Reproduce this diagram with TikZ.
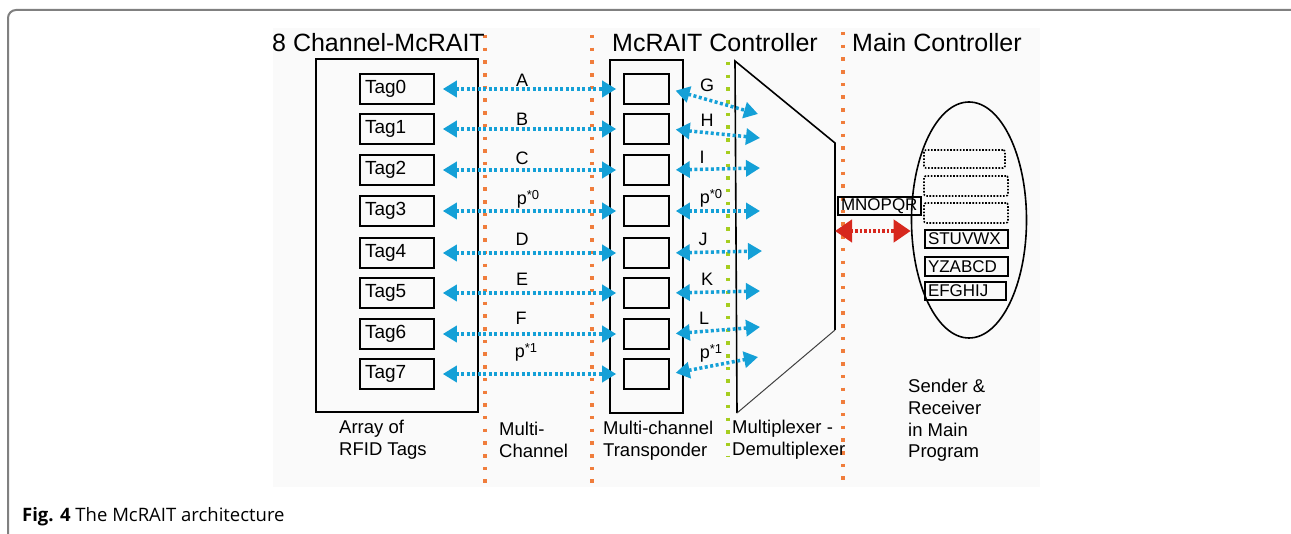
\documentclass[tikz,border=0pt]{standalone}
\usepackage{fontspec}
\setmainfont{Liberation Sans}
\newfontfamily\capfont{Open Sans}
\usetikzlibrary{arrows.meta,shapes.geometric}
\definecolor{blu}{RGB}{20,160,215}
\definecolor{org}{RGB}{240,125,60}
\definecolor{grn}{RGB}{165,205,30}
\definecolor{redc}{RGB}{215,40,30}
\definecolor{framec}{RGB}{128,128,128}
\definecolor{bgc}{RGB}{250,250,250}
\begin{document}
\begin{tikzpicture}[x=1pt,y=-1pt,
  blk/.style={draw=black, line width=1.6pt},
  tagbox/.style={blk, text width=64pt, inner xsep=5pt, inner ysep=0pt, minimum height=30pt, align=left, font=\fontsize{19}{20}\selectfont},
  slotbox/.style={blk, minimum width=45pt, minimum height=30pt, inner sep=0pt},
  lbl/.style={font=\fontsize{18}{19}\selectfont, inner sep=0pt},
  ttl/.style={font=\fontsize{25}{28}\selectfont, anchor=base west, inner sep=0pt},
  sub/.style={font=\fontsize{18.5}{21.7}\selectfont, anchor=north west, inner sep=0pt, align=left},
  barrow/.style={blu, line width=3.5pt, dash pattern=on 3pt off 2.5pt, {Triangle[length=14pt,width=16pt]}-{Triangle[length=14pt,width=16pt]}},
  rarrow/.style={redc, line width=4.5pt, dash pattern=on 2.5pt off 2pt, {Triangle[length=17pt,width=22pt]}-{Triangle[length=17pt,width=22pt]}},
  odots/.style={org, line width=3.5pt, dash pattern=on 3.5pt off 9.2pt},
  gdots/.style={grn, line width=3.5pt, dash pattern=on 3.5pt off 9.2pt},
  dbox/.style={draw, line width=1.6pt, dash pattern=on 1.6pt off 1.6pt, rounded corners=2pt, minimum height=19pt, inner sep=0pt},
  sbox/.style={blk, line width=1.4pt, minimum height=18pt, inner ysep=0pt, inner xsep=3pt, align=left, font=\fontsize{17}{18}\selectfont}
]
\useasboundingbox (0,0) rectangle (1291,534);
% background and frame
\fill[bgc] (273,28) rectangle (1040,487);
\draw[framec, line width=2pt, rounded corners=8pt] (8,534) -- (8,10) -- (1291,10);

% separators
\draw[odots] (485,35) -- (485,483);
\draw[odots] (592,35) -- (592,483);
\draw[odots] (843,32) -- (843,483);
\draw[gdots] (728,62) -- (728,456);

% titles
\node[ttl] (t1) at (272,52) {8 Channel-McRAIT};
\node[ttl] (t2) at (612,52) {McRAIT Controller};
\node[ttl] (t3) at (852,52) {Main Controller};

% outer boxes
\draw[blk] (316,59) rectangle (478,412);
\draw[blk] (610,60) rectangle (683,413);

% multiplexer
\coordinate (m1) at (735,61);
\coordinate (m2) at (835,143);
\coordinate (m3) at (835,330);
\coordinate (m4) at (737,413);
\draw[black, line width=1.6pt] (m4) -- (m1) -- (m2) -- (m3);
\draw[black!75, line width=1pt] (m3) -- (m4);

% tags and slots
\foreach \i/\y in {0/89,1/129,2/170,3/211,4/253,5/293,6/334,7/374}{
  \node[tagbox] (tag\i) at (397,\y) {Tag\i};
  \node[slotbox] (slot\i) at (646.5,\y) {};
  \draw[barrow, shorten <=8pt, shorten >=7pt] (tag\i.east) -- (slot\i.west);
}

% left labels
\node[lbl] (la) at (522,80) {A};
\node[lbl] (lb) at (522,119) {B};
\node[lbl] (lc) at (522,158) {C};
\node[lbl] (lp0) at (528,199) {p\raisebox{5pt}{\fontsize{13}{13}\selectfont *0}};
\node[lbl] (ld) at (522,239) {D};
\node[lbl] (le) at (522,279) {E};
\node[lbl] (lf) at (521,318) {F};
\node[lbl] (lp1) at (526,352) {p\raisebox{5pt}{\fontsize{13}{13}\selectfont *1}};

% right arrows
\foreach \i/\x/\y in {0/758/114,1/760/138,2/760/168,3/760/211,4/762/251,5/760/291,6/760/327,7/758/357}{
  \coordinate (o\i) at (\x,\y);
  \draw[barrow, shorten <=6pt] (slot\i.east) -- (o\i);
}
\node[lbl] (rg) at (707,85) {G};
\node[lbl] (rh) at (707,120) {H};
\node[lbl] (ri) at (702,157) {I};
\node[lbl] (rp0) at (711,198) {p\raisebox{5pt}{\fontsize{13}{13}\selectfont *0}};
\node[lbl] (rj) at (703,239) {J};
\node[lbl] (rk) at (707,279) {K};
\node[lbl] (rl) at (704,318) {L};
\node[lbl] (rp1) at (711,353) {p\raisebox{5pt}{\fontsize{13}{13}\selectfont *1}};

% main controller
\node[ellipse, draw, line width=1.6pt, minimum width=115pt, minimum height=236pt, inner sep=0pt] (ell) at (969,220) {};
\node[sbox, text width=77pt] (mn) at (879.5,206) {MNOPQR};
\coordinate (muxr) at (835,231);
\draw[rarrow] (muxr) -- (ell.west |- muxr);

\node[dbox, minimum width=81pt, minimum height=18pt] (d1) at (964.5,159) {};
\node[dbox, minimum width=84pt, minimum height=20pt] (d2) at (966,186) {};
\node[dbox, minimum width=84pt, minimum height=20pt] (d3) at (966,213) {};
\node[sbox, text width=77pt] (s1) at (966.5,239) {STUVWX};
\node[sbox, text width=77pt, minimum height=19pt] (s2) at (966.5,266.5) {YZABCD};
\node[sbox, text width=75pt] (s3) at (965.5,291) {EFGHIJ};

% bottom labels
\node[sub] (b1) at (339,420) {Array of\\RFID Tags};
\node[sub] (b2) at (499,422) {Multi-\\Channel};
\node[sub] (b3) at (603,421) {Multi-channel\\Transponder};
\node[sub] (b4) at (732,420) {Multiplexer -\\Demultiplexer};
\node[sub] (b5) at (908,379) {Sender \&\\Receiver\\in Main\\Program};

% caption
\node[anchor=base west, inner sep=0pt, font=\capfont\fontsize{18.5}{20}\selectfont] (cap) at (22,521) {\textbf{Fig. 4} The McRAIT architecture};
\end{tikzpicture}
\end{document}
